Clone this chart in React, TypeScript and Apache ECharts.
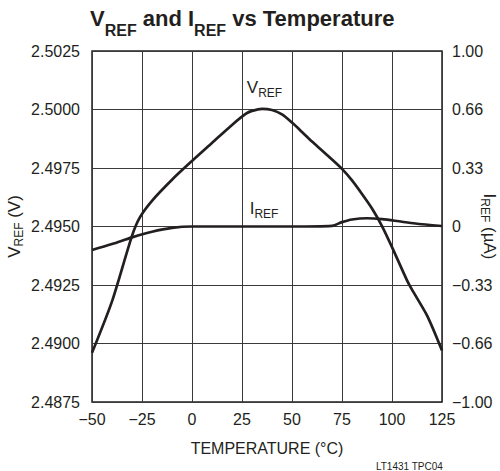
import React, { useEffect, useRef } from "react";
import * as echarts from "echarts";

// ---- data ----
const vrefTemps = [-50, -40, -30, -26, -20, -10, 0, 10, 20, 27, 30, 35, 40, 45, 50, 55, 60, 65, 70, 75, 80, 85, 90, 95, 100, 107.5, 110, 117.5, 125];
const vrefValues = [2.4896, 2.4918, 2.4946, 2.4954, 2.4961, 2.4970, 2.4978, 2.49857, 2.49934, 2.49982, 2.49994, 2.50003, 2.49998, 2.49979, 2.49944, 2.49904, 2.49863, 2.49825, 2.49786, 2.49746, 2.49697, 2.49639, 2.49577, 2.49502, 2.49412, 2.4927, 2.4923, 2.4912, 2.4897];

const irefTemps = [-50, -40, -30, -20, -10, 0, 25, 50, 70, 75, 80, 87.5, 95, 105, 115, 125];
const irefValues = [-0.134, -0.10, -0.062, -0.03, -0.008, 0, 0, 0, 0.004, 0.025, 0.04, 0.047, 0.042, 0.027, 0.013, 0.003];

const rightTickLabels = ["\u22121.00", "\u22120.66", "\u22120.33", "0", "0.33", "0.66", "1.00"];

const vrefLabelAt = [36.25, 2.50092];
const irefLabelAt = [36, 0.0997];

const FONT = "'Liberation Sans', Arial, Helvetica, sans-serif";
const INK = "#231f20";

const subRich = (main: number, sub: number, drop: number, bold = false) => ({
  m: { fontSize: main, lineHeight: main + 1, verticalAlign: "top", fontFamily: FONT, color: INK, fontWeight: bold ? "bold" : "normal" },
  s: { fontSize: sub, lineHeight: sub, verticalAlign: "top", padding: [drop, 0, 0, 0], fontFamily: FONT, color: INK, fontWeight: bold ? "bold" : "normal" },
});

export default function App() {
  const ref = useRef<HTMLDivElement>(null);
  useEffect(() => {
    const chart = echarts.init(ref.current!, null, { renderer: "svg" });
    const option: any = {
      animation: false,
      backgroundColor: "#ffffff",
      title: {
        text: "{m|V}{s|REF}{m| and I}{s|REF}{m| vs Temperature}",
        left: 90,
        top: 7,
        padding: 0,
        textStyle: {
          rich: {
            m: { fontSize: 22, lineHeight: 26, verticalAlign: "top", fontWeight: "bold", fontFamily: FONT, color: INK },
            s: { fontSize: 16, lineHeight: 16, verticalAlign: "top", padding: [15, 0, 0, 0], fontWeight: "bold", fontFamily: FONT, color: INK },
          },
        },
      },
      grid: {
        left: 92, top: 51, width: 350, height: 351,
        containLabel: false, outerBoundsMode: "none",
        show: true, borderColor: INK, borderWidth: 1.5, backgroundColor: "transparent",
      },
      xAxis: {
        type: "value",
        min: -50,
        max: 125,
        interval: 25,
        axisLine: { show: false },
        axisTick: { show: false },
        splitLine: { show: true, lineStyle: { color: "#3a3a3a", width: 1 } },
        axisLabel: {
          margin: 9,
          fontSize: 16,
          fontFamily: FONT,
          color: INK,
          formatter: (v: number) => (v < 0 ? "\u2212" + Math.abs(v) : String(v)),
        },
        name: "TEMPERATURE (°C)",
        nameLocation: "middle",
        nameGap: 38,
        nameMoveOverlap: false,
        nameTextStyle: { fontSize: 16, fontFamily: FONT, color: INK },
      },
      yAxis: [
        {
          type: "value",
          min: 2.4875,
          max: 2.5025,
          interval: 0.0025,
          axisLine: { show: false },
          axisTick: { show: false },
          splitLine: { show: true, lineStyle: { color: "#3a3a3a", width: 1 } },
          axisLabel: { margin: 12, fontSize: 16, fontFamily: FONT, color: INK, formatter: (v: number) => v.toFixed(4) },
          name: "{m|V}{s|REF}{m| (V)}",
          nameLocation: "middle",
          nameRotate: 90,
          nameGap: 68,
          nameMoveOverlap: false,
          nameTextStyle: { rich: subRich(17, 12, 7) },
        },
        {
          type: "value",
          min: -1,
          max: 1,
          interval: 1 / 3,
          position: "right",
          axisLine: { show: false },
          axisTick: { show: false },
          splitLine: { show: false },
          axisLabel: {
            margin: 10,
            fontSize: 16,
            fontFamily: FONT,
            color: INK,
            formatter: (_v: number, i: number) => rightTickLabels[i] ?? "",
          },
          name: "{m|I}{s|REF}{m| (µA)}",
          nameLocation: "middle",
          nameRotate: -90,
          nameGap: 38,
          nameMoveOverlap: false,
          nameTextStyle: { rich: subRich(17, 12, 7) },
        },
      ],
      series: [
        {
          type: "line",
          name: "VREF",
          yAxisIndex: 0,
          data: vrefTemps.map((t, i) => [t, vrefValues[i]]),
          smooth: 0.25,
          showSymbol: false,
          lineStyle: { color: INK, width: 2.7 },
          markPoint: {
            symbol: "circle",
            symbolSize: 0,
            data: [{ coord: vrefLabelAt }],
            label: { show: true, position: "inside", formatter: "{m|V}{s|REF}", rich: subRich(17, 12, 8) },
          },
        },
        {
          type: "line",
          name: "IREF",
          yAxisIndex: 1,
          data: irefTemps.map((t, i) => [t, irefValues[i]]),
          smooth: 0.3,
          showSymbol: false,
          lineStyle: { color: INK, width: 2.7 },
          markPoint: {
            symbol: "circle",
            symbolSize: 0,
            data: [{ coord: irefLabelAt }],
            label: { show: true, position: "inside", formatter: "{m|I}{s|REF}", rich: subRich(17, 12, 8) },
          },
        },
      ],
      graphic: [
        {
          type: "text",
          right: 57,
          top: 461,
          style: { text: "LT1431 TPC04", fontSize: 10, fontFamily: FONT, fill: INK },
        },
      ],
    };
    chart.setOption(option);
    return () => chart.dispose();
  }, []);
  return <div ref={ref} style={{ position: "absolute", left: 0, top: 0, width: 500, height: 471 }} />;
}
